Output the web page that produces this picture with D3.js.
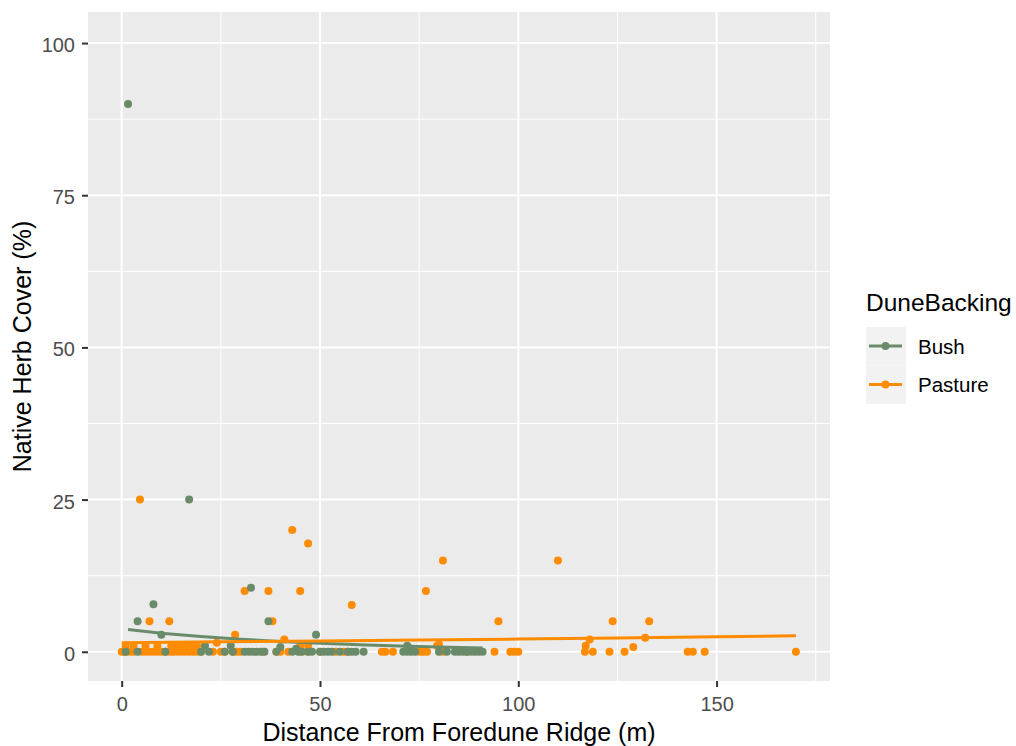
<!DOCTYPE html>
<html>
<head>
<meta charset="utf-8">
<script src="https://cdn.jsdelivr.net/npm/d3@7"></script>
<style>
  body { margin: 0; background: #fff; }
  svg { display: block; font-family: "Liberation Sans", Arial, sans-serif; }
</style>
</head>
<body>
<script>
// ---------- data ----------
const groups = ["Bush", "Pasture"];
const groupColors = ["#698B69", "#FF8C00"];

// Bush: distance (m) and native herb cover (%)
const bushX = [1.6, 17, 32.6, 8, 4, 37, 10, 49, 21, 27.5, 72, 40, 44, 73,
  1, 4, 11, 20, 22, 26, 28, 31, 32, 33, 34, 35, 36, 39, 43, 44.5, 45.5, 47, 48, 50, 51, 52, 53, 55, 57, 58, 59, 61,
  71, 72, 73, 74, 80, 82, 84, 85, 86, 87, 88, 89, 90, 91];
const bushY = [90, 25, 10.5, 7.8, 5, 5, 2.8, 2.8, 1, 1, 1, 0.8, 0.5, 0.5,
  0, 0, 0, 0, 0, 0, 0, 0, 0, 0, 0, 0, 0, 0, 0, 0, 0, 0, 0, 0, 0, 0, 0, 0, 0, 0, 0, 0,
  0, 0, 0, 0, 0, 0, 0, 0, 0, 0, 0, 0, 0, 0];

// Pasture
const pastureX = [4.6, 43, 47, 81, 110, 31, 37, 45, 76.7, 58, 7, 12, 38, 95, 123.8, 133, 28.6, 41, 118, 132, 129, 24, 80,
  1, 3, 6, 9, 12.5, 13.5, 14.5, 15.5, 16.5, 18, 19, 45, 47, 79.5, 117,
  0, 0.5, 1, 2, 3, 5, 6, 7, 8, 9, 10, 11, 12, 13, 14, 15, 16, 17, 18, 19, 20, 23, 25, 26, 28, 29, 30, 35.6, 39, 40, 42, 45, 47, 50, 54, 56, 57,
  65.6, 66.5, 68.4, 75, 76, 77, 81, 87, 94, 98, 99, 100, 116.8, 118.8, 123, 126.8, 142.7, 144, 147, 170];
const pastureY = [25, 20, 17.8, 15, 15, 10, 10, 10, 10, 7.7, 5, 5, 5, 5, 5, 5, 2.8, 2, 2, 2.3, 0.8, 1.5, 1.2,
  1, 1, 1, 1, 1, 1, 1, 1, 1, 1, 1, 1, 1, 1, 1,
  0, 0, 0, 0, 0, 0, 0, 0, 0, 0, 0, 0, 0, 0, 0, 0, 0, 0, 0, 0, 0, 0, 0, 0, 0, 0, 0, 0, 0, 0, 0, 0, 0, 0, 0, 0, 0,
  0, 0, 0, 0, 0, 0, 0, 0, 0, 0, 0, 0, 0, 0, 0, 0, 0, 0, 0, 0];

// fitted trend lines
const bushFitX = [1.6, 10, 20, 30, 40, 50, 60, 70, 80, 91];
const bushFitY = [3.65, 3.05, 2.5, 2.05, 1.7, 1.4, 1.15, 0.95, 0.78, 0.63];
const pastureFitX = [0, 25, 50, 75, 100, 125, 150, 170];
const pastureFitY = [1.5, 1.63, 1.77, 1.92, 2.08, 2.26, 2.46, 2.63];

const xTicks = [0, 50, 100, 150];
const xMinor = [25, 75, 125, 175];
const yTicks = [0, 25, 50, 75, 100];
const yMinor = [12.5, 37.5, 62.5, 87.5];

const xTitle = "Distance From Foredune Ridge (m)";
const yTitle = "Native Herb Cover (%)";
const legendTitle = "DuneBacking";

// ---------- drawing ----------
const W = 1016, H = 746;
const P = { left: 88, right: 830, top: 12, bottom: 681 };
const R = 4;

const svg = d3.select("body").append("svg").attr("width", W).attr("height", H);

const x = d3.scaleLinear().domain([-8.5, 178.6]).range([P.left, P.right]);
const y = d3.scaleLinear().domain([-4.8, 105.1]).range([P.bottom, P.top]);

svg.append("rect").attr("x", P.left).attr("y", P.top)
  .attr("width", P.right - P.left).attr("height", P.bottom - P.top).attr("fill", "#EBEBEB");

const grid = svg.append("g");
grid.selectAll(".xmin").data(xMinor).join("line")
  .attr("x1", d => x(d)).attr("x2", d => x(d)).attr("y1", P.top).attr("y2", P.bottom)
  .attr("stroke", "#fff").attr("stroke-width", 1);
grid.selectAll(".ymin").data(yMinor).join("line")
  .attr("y1", d => y(d)).attr("y2", d => y(d)).attr("x1", P.left).attr("x2", P.right)
  .attr("stroke", "#fff").attr("stroke-width", 1);
grid.selectAll(".xmaj").data(xTicks).join("line")
  .attr("x1", d => x(d)).attr("x2", d => x(d)).attr("y1", P.top).attr("y2", P.bottom)
  .attr("stroke", "#fff").attr("stroke-width", 2);
grid.selectAll(".ymaj").data(yTicks).join("line")
  .attr("y1", d => y(d)).attr("y2", d => y(d)).attr("x1", P.left).attr("x2", P.right)
  .attr("stroke", "#fff").attr("stroke-width", 2);

// axes
const xAxis = svg.append("g").attr("transform", `translate(0,${P.bottom})`)
  .call(d3.axisBottom(x).tickValues(xTicks).tickSize(6).tickPadding(10).tickFormat(d3.format("d")));
const yAxis = svg.append("g").attr("transform", `translate(${P.left},0)`)
  .call(d3.axisLeft(y).tickValues(yTicks).tickSize(6).tickPadding(7).tickFormat(d3.format("d")));
[xAxis, yAxis].forEach(a => {
  a.select(".domain").remove();
  a.selectAll(".tick line").attr("stroke", "#333").attr("stroke-width", 2);
  a.selectAll(".tick text").attr("fill", "#4D4D4D").style("font-size", "20px")
    .style("font-family", "'Liberation Sans', Arial, sans-serif");
});
yAxis.selectAll(".tick text").attr("dy", "0.42em");

// points
const pts = svg.append("g");
const pastureData = pastureX.map((d, i) => ({ x: d, y: pastureY[i] }));
const bushData = bushX.map((d, i) => ({ x: d, y: bushY[i] }));
pts.selectAll(".p").data(pastureData).join("circle")
  .attr("cx", d => x(d.x)).attr("cy", d => y(d.y)).attr("r", R).attr("fill", groupColors[1]);
pts.selectAll(".b").data(bushData).join("circle")
  .attr("cx", d => x(d.x)).attr("cy", d => y(d.y)).attr("r", R).attr("fill", groupColors[0]);

// trend lines
const line = d3.line().x(d => x(d[0])).y(d => y(d[1]));
svg.append("path").datum(bushFitX.map((d, i) => [d, bushFitY[i]]))
  .attr("d", line).attr("fill", "none").attr("stroke", groupColors[0]).attr("stroke-width", 3);
svg.append("path").datum(pastureFitX.map((d, i) => [d, pastureFitY[i]]))
  .attr("d", line).attr("fill", "none").attr("stroke", groupColors[1]).attr("stroke-width", 3);

// axis titles
svg.append("text").attr("x", (P.left + P.right) / 2).attr("y", 741)
  .attr("text-anchor", "middle").style("font-size", "25px").attr("fill", "#000").text(xTitle);
svg.append("text").attr("transform", `translate(31,${(P.top + P.bottom) / 2}) rotate(-90)`)
  .attr("text-anchor", "middle").style("font-size", "25px").attr("fill", "#000").text(yTitle);

// legend
const lg = svg.append("g");
lg.append("text").attr("x", 866).attr("y", 311).style("font-size", "24.5px").attr("fill", "#000").text(legendTitle);
groups.forEach((g, i) => {
  const cy = 346 + i * 38.5;
  lg.append("rect").attr("x", 866).attr("y", cy - 19).attr("width", 40).attr("height", 38.5).attr("fill", "#F2F2F2");
  lg.append("line").attr("x1", 869).attr("x2", 902).attr("y1", cy).attr("y2", cy)
    .attr("stroke", groupColors[i]).attr("stroke-width", 3);
  lg.append("circle").attr("cx", 885.5).attr("cy", cy).attr("r", R).attr("fill", groupColors[i]);
  lg.append("text").attr("x", 918).attr("y", cy + 7.5).style("font-size", "20.5px").attr("fill", "#000").text(g);
});
</script>
</body>
</html>
